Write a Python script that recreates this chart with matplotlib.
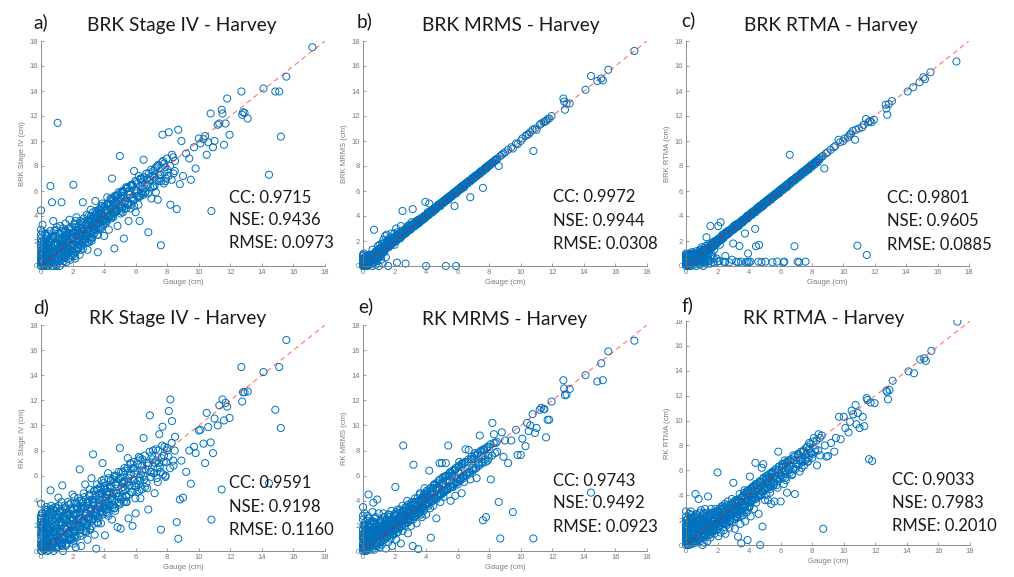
import numpy as np
import matplotlib
matplotlib.use('Agg')
import matplotlib.pyplot as plt
from matplotlib.patches import Rectangle

# gauge totals (cm), shared by all six products
gauge = [
    0.0, 0.0, 0.0, 0.0, 0.0, 0.0, 0.05, 0.1, 0.1, 0.15,
    0.2, 0.2, 0.25, 0.3, 0.3, 0.35, 0.4, 0.4, 0.45, 0.5,
    0.5, 0.55, 0.6, 0.6, 0.65, 0.7, 0.7, 0.75, 0.8, 0.8,
    0.85, 0.9, 0.9, 0.95, 1.0, 1.0, 1.05, 1.1, 1.1, 1.15,
    1.2, 1.2, 1.25, 1.3, 1.3, 1.35, 1.4, 1.4, 1.45, 1.5,
    1.5, 1.55, 1.6, 1.6, 1.65, 1.7, 1.75, 1.8, 1.8, 1.85,
    1.9, 1.95, 2.0, 2.0, 2.05, 2.1, 2.15, 2.2, 2.2, 2.25,
    2.3, 2.35, 2.4, 2.45, 2.5, 2.5, 2.55, 2.6, 2.65, 2.7,
    2.75, 2.8, 2.85, 2.9, 2.95, 3.0, 3.05, 3.1, 3.15, 3.2,
    3.25, 3.3, 3.35, 3.4, 3.45, 3.5, 3.55, 3.6, 3.7, 3.75,
    3.8, 3.85, 3.9, 3.95, 4.0, 4.05, 4.1, 4.2, 4.25, 4.3,
    4.4, 4.45, 4.5, 4.6, 4.65, 4.7, 4.8, 4.85, 4.9, 5.0,
    5.05, 5.1, 5.2, 5.25, 5.3, 5.4, 5.5, 5.55, 5.6, 5.7,
    5.8, 5.85, 5.9, 6.0, 6.1, 6.2, 6.25, 6.3, 6.4, 6.5,
    6.6, 6.7, 6.8, 6.9, 7.0, 7.1, 7.2, 7.3, 7.4, 7.5,
    7.6, 7.7, 7.8, 7.9, 8.0, 8.1, 8.2, 8.3, 8.4, 8.5,
    8.6, 8.7, 8.8, 8.9, 9.0, 9.2, 9.4, 9.5, 9.7, 9.8,
    10.0, 10.1, 10.3, 10.4, 10.5, 10.6, 10.75, 10.8, 10.9, 11.0,
    11.2, 11.3, 11.45, 11.5, 11.6, 11.7, 11.8, 11.95, 12.7, 12.75,
    12.8, 12.9, 13.1, 14.1, 14.45, 14.85, 15.1, 15.2, 15.55, 17.2,
    0.0, 0.0, 0.0, 0.02, 0.08, 0.12, 0.18, 0.22, 0.28, 0.32,
    0.38, 0.42, 0.48, 0.52, 0.58, 0.62, 0.68, 0.72, 0.78, 0.82,
    0.88, 0.92, 0.98, 1.02, 1.08, 1.12, 1.18, 1.22, 1.28, 1.32,
    1.38, 1.42, 1.48, 1.52, 1.58, 1.62, 1.72, 1.78, 1.88, 1.92,
    2.02, 2.08, 2.12, 2.18, 2.28, 2.32, 2.42, 2.48, 2.58, 2.62,
    2.72, 2.78, 2.88, 2.92, 3.02, 3.08, 3.18, 3.22, 3.32, 3.38,
    3.48, 3.52, 3.62, 3.68, 3.78, 3.88, 3.98, 4.02, 4.12, 4.18,
    4.28, 4.38, 4.52, 4.58, 4.72, 4.78, 4.92, 5.08, 5.18, 5.32,
    0.0, 0.0, 0.03, 0.07, 0.13, 0.17, 0.23, 0.27, 0.33, 0.37,
    0.43, 0.47, 0.53, 0.57, 0.63, 0.67, 0.73, 0.77, 0.83, 0.87,
    0.93, 0.97, 1.03, 1.07, 1.13, 1.17, 1.23, 1.27, 1.33, 1.37,
    1.43, 1.47, 1.53, 1.57, 1.63, 1.67, 1.73, 1.77, 1.83, 1.87,
    1.93, 1.97, 2.03, 2.07, 2.13, 2.17, 2.23, 2.27, 2.33, 2.37,
    2.43, 2.47, 2.53, 2.57, 2.63, 2.67, 2.73, 2.77, 2.83, 2.87,
    2.93, 2.97, 3.03, 3.07, 3.13, 3.17, 3.23, 3.27, 3.33, 3.37,
    3.43, 3.47, 3.53, 3.57, 3.63, 3.67, 3.73, 3.83, 3.93, 4.03,
    4.07, 4.13, 4.23, 4.33, 4.43, 4.53, 4.63, 4.73, 4.83, 4.93,
    5.03, 5.13, 5.23, 5.33, 5.43, 5.53, 5.63, 5.73, 5.83, 5.93,
    6.03, 6.13, 6.23, 6.33, 6.43, 6.53, 6.63, 6.73, 6.83, 6.93,
    7.03, 7.13, 7.23, 7.33, 7.43, 7.53, 7.63, 7.73, 7.83, 7.93,
    0.0, 0.04, 0.09, 0.14, 0.19, 0.24, 0.29, 0.34, 0.39, 0.44,
    0.49, 0.54, 0.59, 0.64, 0.69, 0.74, 0.79, 0.84, 0.89, 0.94,
    0.99, 1.06, 1.14, 1.21, 1.29, 1.36, 1.44, 1.51, 1.59, 1.66,
    1.74, 1.81, 1.89, 1.96, 2.04, 2.11, 2.19, 2.26, 2.34, 2.41,
    2.49, 2.56, 2.64, 2.71, 2.79, 2.86, 2.94, 3.01, 3.09, 3.16,
    3.24, 3.31, 3.39, 3.46, 3.54, 3.61, 3.69, 3.76, 3.84, 3.91,
    4.04, 4.16, 4.29, 4.41, 4.54, 4.66, 4.79, 4.91, 5.04, 5.16,
    5.29, 5.41, 5.54, 5.66, 5.79, 5.91, 6.04, 6.16, 6.29, 6.41,
    3.55, 3.65, 3.75, 3.85, 3.95, 4.08, 4.18, 4.28, 4.38, 4.48,
    4.58, 4.68, 4.78, 4.88, 4.98, 5.08, 5.18, 5.28, 5.38, 5.48,
    5.58, 5.68, 5.78, 5.88, 5.98, 6.08, 6.18, 6.28, 6.38, 6.48,
    6.58, 6.68, 6.78, 6.88, 6.98, 7.08, 7.18, 7.28, 7.38, 7.48,
    7.58, 7.68, 7.78, 7.88, 7.98, 8.08, 8.18, 8.28, 8.38, 8.48,
    0.02, 0.06, 0.11, 0.16, 0.21, 0.26, 0.31, 0.36, 0.41, 0.46,
]

brk_stage4 = [
    0.0, 0.6, 1.2, 1.9, 2.5, 4.45, 0.2, 0.9, 3.3, 1.6,
    0.0, 1.3, 0.5, 2.2, 0.1, 1.0, 0.0, 1.7, 2.6, 0.6,
    2.0, 1.1, 6.4, 0.2, 1.6, 0.4, 5.1, 2.4, 0.0, 1.2,
    2.8, 0.6, 1.8, 0.1, 1.4, 3.1, 11.45, 0.5, 2.2, 1.0,
    0.0, 2.6, 1.7, 5.1, 0.8, 2.0, 3.0, 1.2, 0.4, 2.3,
    1.0, 3.4, 0.3, 1.9, 2.7, 1.3, 0.6, 2.4, 3.7, 1.6,
    0.9, 2.9, 1.4, 2.3, 6.5, 3.3, 0.8, 1.9, 2.7, 3.9,
    1.5, 2.5, 3.2, 0.9, 2.0, 3.6, 1.3, 2.8, 5.1, 2.2,
    3.5, 1.9, 2.6, 4.1, 1.3, 3.0, 2.3, 3.8, 4.5, 2.0,
    3.3, 4.3, 2.6, 3.6, 5.2, 2.9, 4.0, 1.1, 3.5, 4.6,
    3.0, 4.2, 5.0, 3.7, 2.4, 4.4, 3.4, 5.5, 4.0, 2.9,
    4.6, 3.8, 7.0, 5.0, 1.4, 4.3, 5.6, 3.2, 4.9, 8.8,
    4.2, 5.4, 6.0, 2.2, 5.0, 4.6, 6.3, 3.6, 5.7, 4.9,
    6.4, 5.2, 7.6, 4.3, 6.0, 7.2, 3.6, 5.6, 6.7, 8.5,
    5.9, 6.9, 2.7, 7.1, 5.4, 7.6, 6.4, 7.9, 5.3, 7.0,
    1.66, 10.5, 8.2, 6.8, 7.7, 10.7, 4.9, 8.9, 7.4, 8.4,
    4.55, 10.9, 6.55, 10.0, 7.2, 9.0, 8.6, 6.9, 9.5, 7.8,
    10.2, 9.8, 10.15, 10.4, 8.9, 9.9, 12.2, 4.4, 9.5, 10.0,
    11.3, 11.4, 12.5, 12.2, 9.7, 11.4, 13.4, 10.5, 13.96, 12.1,
    12.3, 12.25, 11.8, 14.2, 7.3, 13.96, 13.96, 10.35, 15.15, 17.5,
    0.3, 1.5, 2.9, 0.0, 1.1, 0.4, 2.0, 0.8, 1.4, 0.2,
    1.2, 0.5, 1.7, 0.3, 0.9, 2.2, 1.5, 1.0, 3.6, 0.5,
    1.2, 2.4, 0.0, 1.9, 0.9, 1.5, 2.2, 0.4, 1.1, 2.8,
    1.7, 0.7, 2.1, 1.3, 2.4, 1.0, 2.0, 3.0, 1.2, 2.5,
    1.8, 2.6, 1.0, 3.1, 2.0, 2.9, 1.7, 2.6, 3.3, 1.9,
    3.0, 2.4, 3.4, 2.7, 3.7, 2.1, 3.1, 3.5, 2.8, 3.9,
    3.2, 3.8, 4.1, 3.4, 4.4, 3.6, 4.0, 4.8, 3.7, 4.5,
    4.0, 4.9, 4.3, 5.3, 4.6, 5.1, 5.4, 4.8, 5.6, 5.2,
    0.9, 2.2, 0.4, 1.3, 0.0, 0.7, 1.9, 0.3, 1.0, 2.4,
    0.8, 0.2, 1.4, 2.0, 0.5, 1.1, 0.0, 2.3, 0.9, 1.6,
    0.3, 1.7, 1.0, 2.6, 0.6, 1.3, 2.0, 0.9, 1.6, 0.2,
    1.9, 1.1, 2.8, 0.7, 1.5, 2.2, 1.0, 3.0, 1.7, 0.5,
    2.1, 1.2, 2.7, 1.6, 3.4, 0.6, 2.4, 1.9, 2.9, 1.4,
    2.2, 3.0, 1.7, 2.6, 3.5, 1.4, 2.9, 2.1, 3.3, 2.5,
    2.4, 3.3, 1.9, 3.6, 2.8, 4.0, 2.2, 3.1, 3.8, 2.6,
    3.0, 4.1, 3.5, 2.5, 3.9, 4.5, 3.2, 4.2, 3.6, 4.7,
    3.8, 4.4, 5.0, 4.1, 5.3, 4.0, 4.8, 5.6, 4.4, 5.1,
    5.5, 4.6, 5.9, 5.2, 6.2, 4.9, 5.7, 6.5, 5.4, 6.1,
    5.8, 6.6, 5.5, 6.9, 6.2, 7.1, 5.9, 6.5, 7.4, 6.3,
    7.2, 6.4, 7.8, 6.9, 8.1, 7.3, 6.8, 8.4, 7.5, 7.0,
    1.7, 0.5, 2.7, 1.0, 0.1, 1.8, 0.6, 2.5, 1.2, 0.0,
    1.9, 0.7, 2.8, 1.3, 0.3, 2.1, 1.0, 0.2, 1.6, 2.9,
    0.6, 1.8, 1.1, 3.2, 0.5, 2.1, 1.4, 2.7, 0.9, 1.9,
    2.6, 1.3, 3.1, 0.8, 2.3, 1.7, 3.6, 1.2, 2.8, 2.0,
    3.0, 1.6, 2.5, 3.8, 2.1, 3.3, 1.9, 4.0, 2.7, 3.5,
    2.3, 3.9, 2.9, 4.4, 3.4, 2.5, 4.2, 3.1, 4.8, 3.6,
    3.5, 4.9, 3.9, 5.4, 4.2, 5.6, 4.5, 5.9, 4.4, 6.0,
    4.6, 6.2, 5.0, 6.4, 5.5, 4.8, 6.7, 5.6, 7.0, 5.8,
    4.3, 2.9, 3.7, 4.8, 3.3, 4.5, 3.6, 5.0, 4.0, 5.3,
    3.9, 5.1, 4.4, 5.7, 4.7, 5.9, 4.3, 5.5, 6.3, 4.9,
    6.0, 4.6, 6.5, 5.3, 6.8, 5.6, 4.9, 6.4, 7.0, 5.7,
    6.2, 7.4, 5.8, 6.9, 7.7, 6.3, 7.1, 5.9, 8.0, 6.8,
    7.3, 8.3, 6.6, 7.9, 8.6, 7.2, 8.0, 6.9, 8.7, 7.6,
    0.8, 2.0, 0.3, 1.4, 0.6, 2.6, 1.1, 0.0, 1.8, 0.4,
]

brk_mrms = [
    0.0, 0.3, 0.6, 0.9, 0.1, 0.5, 1.0, 0.2, 0.7, 0.0,
    0.4, 0.0, 0.8, 0.2, 0.6, 0.3, 0.9, 0.1, 0.5, 0.7,
    0.2, 0.9, 0.0, 1.3, 0.6, 2.9, 0.3, 1.0, 0.1, 0.7,
    1.2, 0.4, 0.9, 1.6, 0.0, 1.1, 1.7, 0.8, 1.3, 0.5,
    1.3, 1.8, 0.2, 1.5, 2.1, 1.1, 2.4, 1.4, 0.7, 1.7,
    2.5, 1.5, 1.9, 0.0, 2.2, 1.6, 2.0, 1.8, 2.6, 1.9,
    2.2, 1.9, 2.6, 1.7, 2.1, 3.0, 0.27, 2.2, 2.5, 2.3,
    2.6, 2.2, 3.2, 2.4, 4.4, 2.7, 2.5, 2.9, 2.6, 0.2,
    3.0, 2.8, 3.2, 2.9, 3.3, 3.0, 3.1, 3.5, 4.55, 3.2,
    3.3, 3.5, 3.3, 3.6, 3.4, 3.7, 3.5, 3.6, 3.8, 3.7,
    3.9, 3.8, 4.0, 5.13, 0.0, 4.1, 4.3, 5.0, 4.2, 4.4,
    4.5, 4.4, 4.6, 4.7, 4.6, 4.8, 4.9, 4.8, 5.0, 5.1,
    5.0, 5.2, 5.3, 0.0, 5.3, 5.5, 5.6, 5.5, 5.7, 5.8,
    4.8, 5.9, 0.0, 6.1, 6.2, 6.3, 6.2, 6.4, 6.5, 6.6,
    6.7, 6.8, 5.5, 7.0, 7.1, 7.2, 7.3, 7.3, 7.5, 7.6,
    6.25, 7.8, 7.9, 8.0, 8.1, 8.2, 8.3, 8.4, 8.5, 8.6,
    8.0, 8.8, 8.9, 9.0, 9.1, 9.3, 9.5, 9.4, 9.8, 9.75,
    10.0, 10.2, 10.4, 10.5, 10.55, 10.7, 10.9, 9.2, 11.0, 10.9,
    11.3, 11.4, 11.5, 11.55, 11.6, 11.75, 11.8, 12.0, 13.4, 13.15,
    12.5, 13.0, 13.0, 14.1, 15.2, 14.8, 15.0, 14.85, 15.7, 17.2,
    0.2, 0.8, 0.4, 0.0, 0.6, 0.3, 0.1, 0.5, 0.0, 0.4,
    0.2, 0.6, 0.4, 0.8, 0.5, 0.3, 0.9, 0.6, 1.0, 0.7,
    0.9, 1.3, 0.7, 1.0, 1.4, 1.2, 0.9, 1.5, 1.2, 1.8,
    1.3, 1.7, 1.5, 2.0, 1.6, 1.5, 1.9, 2.3, 1.9, 2.0,
    2.0, 2.3, 2.1, 2.7, 2.3, 2.5, 2.4, 2.8, 2.6, 2.7,
    2.8, 3.1, 2.9, 3.0, 3.1, 3.3, 3.2, 3.4, 3.3, 3.5,
    3.5, 3.4, 3.7, 3.8, 3.7, 4.0, 3.9, 4.1, 4.2, 4.1,
    4.3, 4.4, 4.6, 4.5, 4.7, 4.9, 4.9, 5.1, 5.2, 5.3,
    0.1, 0.5, 0.3, 0.0, 0.4, 0.2, 0.6, 0.3, 0.5, 0.2,
    0.5, 0.8, 0.4, 0.7, 0.9, 0.5, 0.8, 1.1, 0.6, 1.0,
    0.8, 1.2, 1.0, 1.4, 0.9, 1.3, 1.1, 1.6, 1.2, 1.5,
    1.4, 1.8, 1.5, 1.7, 1.6, 2.0, 1.7, 1.9, 1.8, 2.2,
    1.9, 2.1, 2.0, 2.4, 2.1, 2.3, 2.2, 2.6, 2.3, 2.5,
    2.4, 2.6, 2.5, 2.7, 2.6, 2.9, 2.7, 2.8, 2.8, 3.0,
    2.9, 3.1, 3.0, 3.2, 3.1, 3.3, 3.2, 3.4, 3.3, 3.4,
    3.4, 3.6, 3.5, 3.6, 3.6, 3.8, 3.7, 3.8, 3.9, 4.1,
    4.0, 4.2, 4.2, 4.4, 4.4, 4.5, 4.6, 4.8, 4.8, 5.0,
    5.0, 5.2, 5.2, 5.4, 5.4, 5.6, 5.6, 5.8, 5.8, 6.0,
    6.0, 6.2, 6.2, 6.4, 6.4, 6.6, 6.6, 6.8, 6.8, 7.0,
    7.0, 7.2, 7.2, 7.4, 7.4, 7.6, 7.6, 7.8, 7.8, 8.0,
    0.3, 0.1, 0.4, 0.2, 0.5, 0.3, 0.4, 0.6, 0.4, 0.5,
    0.6, 0.5, 0.7, 0.6, 0.8, 0.7, 0.9, 0.8, 1.0, 0.9,
    1.1, 1.0, 1.3, 1.2, 1.4, 1.3, 1.6, 1.5, 1.7, 1.6,
    1.8, 1.7, 2.0, 1.9, 2.1, 2.0, 2.3, 2.2, 2.4, 2.3,
    2.6, 2.5, 2.7, 2.6, 2.8, 2.8, 3.0, 2.9, 3.2, 3.1,
    3.3, 3.2, 3.5, 3.4, 3.6, 3.5, 3.8, 3.7, 3.9, 3.8,
    4.1, 4.1, 4.4, 4.3, 4.6, 4.6, 4.9, 4.8, 5.1, 5.1,
    5.4, 5.3, 5.6, 5.6, 5.9, 5.8, 6.1, 6.1, 6.4, 6.3,
    3.6, 3.7, 3.8, 3.9, 4.0, 4.1, 4.2, 4.3, 4.4, 4.5,
    4.6, 4.7, 4.8, 4.9, 5.0, 5.1, 5.2, 5.3, 5.4, 5.5,
    5.6, 5.7, 5.8, 5.9, 6.0, 6.1, 6.2, 6.3, 6.4, 6.5,
    6.6, 6.7, 6.8, 6.9, 7.0, 7.1, 7.2, 7.3, 7.4, 7.5,
    7.6, 7.7, 7.8, 7.9, 8.0, 8.1, 8.2, 8.3, 8.4, 8.5,
    0.4, 0.1, 0.6, 0.3, 0.8, 0.2, 0.5, 0.7, 0.3, 0.9,
]

brk_rtma = [
    0.0, 0.4, 0.8, 0.2, 0.6, 1.0, 0.3, 0.7, 0.1, 0.5,
    0.9, 0.2, 0.5, 0.0, 0.8, 0.4, 1.1, 0.3, 0.7, 0.1,
    0.6, 1.0, 0.3, 0.8, 0.0, 1.2, 0.5, 0.9, 0.2, 1.1,
    0.6, 1.3, 0.1, 0.9, 1.5, 0.4, 1.1, 0.0, 1.4, 0.7,
    1.2, 0.3, 1.6, 2.3, 0.8, 1.4, 0.2, 1.7, 1.0, 1.5,
    0.4, 3.2, 1.7, 0.8, 1.5, 1.9, 0.3, 1.8, 1.3, 2.0,
    1.9, 0.6, 0.35, 2.1, 3.2, 2.2, 1.7, 3.5, 2.3, 2.1,
    2.4, 2.2, 0.35, 2.6, 2.5, 0.8, 2.7, 2.5, 2.8, 2.6,
    0.3, 2.9, 2.8, 3.0, 2.9, 1.8, 3.2, 3.0, 3.3, 0.35,
    3.3, 3.4, 3.2, 1.6, 3.5, 0.35, 3.6, 3.5, 3.7, 2.6,
    0.3, 3.9, 0.35, 1.0, 0.3, 4.1, 0.35, 4.3, 4.2, 4.4,
    2.97, 1.58, 4.6, 0.35, 1.68, 4.8, 0.3, 4.9, 5.0, 5.1,
    0.35, 5.2, 5.3, 5.2, 5.4, 5.5, 0.3, 5.6, 5.7, 5.8,
    0.35, 5.9, 6.0, 6.1, 6.2, 0.3, 0.35, 6.4, 6.5, 6.6,
    8.9, 6.8, 6.9, 1.58, 7.1, 0.35, 0.3, 7.4, 7.5, 7.6,
    0.35, 7.8, 7.75, 8.0, 8.1, 8.2, 8.3, 8.4, 8.5, 8.6,
    8.7, 8.8, 7.8, 9.0, 9.1, 9.3, 9.5, 9.6, 10.1, 9.9,
    10.0, 10.2, 10.3, 10.5, 10.6, 10.8, 10.1, 10.9, 1.63, 11.0,
    11.1, 11.3, 11.76, 0.88, 11.5, 11.6, 11.5, 11.7, 12.9, 12.6,
    12.1, 12.95, 13.2, 13.96, 14.3, 14.7, 15.1, 14.95, 15.5, 16.36,
    0.5, 0.9, 0.2, 0.7, 0.4, 0.0, 0.6, 0.2, 0.9, 0.5,
    0.6, 0.2, 0.8, 0.5, 0.7, 0.4, 0.9, 0.6, 1.0, 0.8,
    0.9, 0.3, 1.0, 1.2, 0.5, 1.1, 1.3, 0.2, 1.2, 1.4,
    1.4, 0.5, 1.5, 1.6, 0.2, 1.7, 1.8, 0.6, 1.9, 2.0,
    2.1, 2.0, 0.4, 2.2, 2.3, 2.5, 2.4, 0.3, 2.6, 2.7,
    2.8, 2.7, 2.9, 0.5, 3.0, 3.2, 3.1, 3.3, 0.3, 3.4,
    3.5, 3.6, 3.7, 3.6, 3.8, 4.0, 3.9, 4.1, 4.2, 4.1,
    4.3, 4.4, 4.5, 4.7, 4.8, 4.7, 5.0, 5.1, 5.2, 5.4,
    0.3, 0.7, 0.1, 0.5, 0.2, 0.8, 0.4, 0.0, 0.6, 0.3,
    0.5, 0.9, 0.3, 0.6, 0.8, 0.4, 1.0, 0.7, 0.9, 0.5,
    1.0, 0.6, 1.1, 0.8, 1.2, 0.4, 1.3, 1.1, 1.4, 0.7,
    1.5, 1.2, 1.6, 1.4, 1.7, 0.9, 1.8, 1.6, 1.9, 1.7,
    2.0, 1.8, 2.1, 2.0, 2.2, 2.1, 2.3, 2.2, 2.4, 2.3,
    2.5, 2.4, 2.6, 2.5, 2.7, 2.6, 2.8, 2.7, 2.9, 2.8,
    3.0, 2.9, 3.1, 3.0, 3.2, 3.1, 3.3, 3.2, 3.4, 3.3,
    3.5, 3.4, 3.6, 3.5, 3.7, 3.6, 3.8, 3.8, 4.0, 4.1,
    4.1, 4.2, 4.3, 4.4, 4.5, 4.6, 4.7, 4.8, 4.9, 5.0,
    5.1, 5.2, 5.3, 5.4, 5.5, 5.6, 5.7, 5.8, 5.9, 6.0,
    6.1, 6.2, 6.3, 6.4, 6.5, 6.6, 6.7, 6.8, 6.9, 7.0,
    7.1, 7.2, 7.3, 7.4, 7.5, 7.6, 7.7, 7.8, 7.9, 8.0,
    0.6, 0.2, 0.8, 0.4, 0.1, 0.7, 0.3, 0.5, 0.9, 0.4,
    0.7, 0.3, 0.8, 0.6, 1.0, 0.5, 0.9, 0.7, 1.1, 0.8,
    1.0, 0.6, 1.2, 1.1, 1.3, 0.9, 1.5, 1.4, 1.6, 1.5,
    1.8, 1.7, 1.9, 1.9, 2.1, 2.0, 2.2, 2.2, 2.4, 2.3,
    2.5, 2.5, 2.7, 2.6, 2.8, 2.8, 3.0, 2.9, 3.1, 3.1,
    3.3, 3.2, 3.4, 3.4, 3.6, 3.5, 3.7, 3.7, 3.9, 3.8,
    4.1, 4.1, 4.3, 4.3, 4.6, 4.6, 4.8, 4.8, 5.1, 5.1,
    5.3, 5.3, 5.6, 5.6, 5.8, 5.8, 6.1, 6.1, 6.3, 6.3,
    3.5, 3.7, 3.7, 3.9, 3.9, 4.1, 4.1, 4.3, 4.3, 4.5,
    4.5, 4.7, 4.7, 4.9, 4.9, 5.1, 5.1, 5.3, 5.3, 5.5,
    5.5, 5.7, 5.7, 5.9, 5.9, 6.1, 6.1, 6.3, 6.3, 6.5,
    6.5, 6.7, 6.7, 6.9, 6.9, 7.1, 7.1, 7.3, 7.3, 7.5,
    7.5, 7.7, 7.7, 7.9, 7.9, 8.1, 8.1, 8.3, 8.3, 8.5,
    0.7, 0.3, 0.9, 0.5, 1.0, 0.2, 0.8, 0.4, 1.1, 0.6,
]

rk_stage4 = [
    0.0, 0.8, 1.5, 2.3, 2.8, 3.77, 0.3, 1.2, 2.0, 0.5,
    1.8, 0.1, 2.6, 0.7, 1.4, 3.1, 0.0, 2.2, 1.0, 2.7,
    0.4, 1.7, 4.83, 1.1, 3.3, 0.2, 2.4, 1.5, 3.0, 0.0,
    2.0, 0.7, 3.5, 1.3, 2.6, 0.3, 1.8, 4.25, 2.9, 0.9,
    1.6, 3.2, 0.5, 2.3, 1.1, 5.22, 2.8, 0.0, 1.9, 3.6,
    1.2, 2.5, 0.6, 3.0, 1.7, 3.9, 0.9, 2.2, 1.4, 3.3,
    2.7, 1.0, 4.5, 2.1, 0.6, 3.4, 1.6, 2.9, 0.3, 3.8,
    1.9, 4.2, 2.6, 6.5, 1.2, 3.3, 0.4, 2.4, 3.9, 1.6,
    3.0, 5.3, 2.0, 3.6, 0.9, 2.7, 4.4, 1.8, 3.2, 5.8,
    2.4, 7.7, 3.8, 1.3, 3.1, 0.19, 4.9, 2.8, 3.5, 5.1,
    2.2, 4.5, 7.0, 3.4, 5.7, 1.25, 4.0, 3.0, 6.2, 4.7,
    3.6, 5.2, 2.5, 4.6, 6.0, 3.2, 5.5, 1.9, 4.3, 8.2,
    1.78, 5.0, 6.3, 3.9, 5.6, 4.4, 7.4, 2.6, 5.2, 6.1,
    2.0, 5.6, 6.6, 3.0, 4.7, 7.5, 5.8, 4.2, 6.4, 9.0,
    5.1, 7.0, 3.3, 10.8, 6.3, 8.0, 4.6, 7.2, 5.5, 9.3,
    1.7, 9.9, 7.6, 6.0, 8.2, 11.15, 12.07, 10.35, 6.8, 9.1,
    2.3, 0.98, 4.1, 7.2, 4.25, 6.3, 8.0, 5.36, 8.3, 7.8,
    9.6, 9.65, 8.55, 7.0, 11.0, 9.87, 8.65, 2.5, 7.8, 10.55,
    10.0, 11.6, 4.9, 12.07, 10.4, 11.8, 11.5, 10.6, 14.65, 11.9,
    12.65, 12.65, 12.7, 14.25, 5.4, 11.25, 14.65, 9.8, 16.8, np.nan,
    0.4, 1.9, 2.5, 1.1, 0.0, 1.6, 0.7, 2.1, 0.2, 1.3,
    0.8, 1.9, 0.1, 2.4, 1.2, 0.5, 1.8, 2.9, 0.7, 1.5,
    1.0, 2.3, 0.2, 1.6, 2.7, 0.6, 1.3, 3.0, 2.0, 0.4,
    2.2, 1.0, 2.8, 1.8, 0.5, 2.5, 1.4, 2.9, 2.0, 1.1,
    1.6, 2.9, 2.2, 1.2, 3.4, 2.5, 1.9, 3.1, 2.3, 3.6,
    2.5, 3.5, 1.8, 3.0, 4.0, 2.6, 3.4, 2.0, 3.9, 3.1,
    4.1, 2.9, 3.6, 4.6, 3.2, 4.3, 3.7, 4.9, 3.4, 4.5,
    3.9, 5.0, 4.4, 3.7, 5.3, 4.6, 5.7, 4.1, 5.4, 4.9,
    1.3, 2.6, 0.5, 1.8, 0.2, 2.3, 1.0, 3.3, 0.6, 1.9,
    2.5, 0.9, 1.6, 3.1, 0.3, 2.1, 1.2, 3.4, 0.8, 2.6,
    1.7, 0.4, 2.9, 1.2, 3.6, 0.8, 2.2, 1.5, 3.2, 0.6,
    2.5, 1.0, 3.4, 0.4, 2.0, 2.9, 1.3, 3.7, 0.9, 2.4,
    1.5, 3.2, 2.4, 0.8, 3.8, 1.9, 2.9, 1.1, 3.5, 2.2,
    3.1, 1.4, 2.6, 4.0, 1.9, 3.4, 2.3, 4.3, 1.6, 3.0,
    2.1, 3.8, 2.7, 4.5, 1.7, 3.3, 4.1, 2.5, 3.6, 4.8,
    2.8, 4.4, 3.3, 2.3, 4.9, 3.8, 2.9, 4.6, 3.5, 5.2,
    4.3, 3.1, 5.0, 3.7, 5.6, 4.1, 3.4, 5.3, 4.6, 3.9,
    5.8, 4.3, 5.1, 6.4, 3.9, 5.5, 6.0, 4.7, 6.6, 5.2,
    5.4, 6.9, 4.8, 6.1, 7.3, 5.7, 6.5, 5.0, 7.0, 6.3,
    7.6, 6.2, 7.0, 5.8, 8.0, 6.7, 7.4, 6.1, 8.3, 7.1,
    2.1, 0.6, 3.0, 1.4, 0.2, 2.7, 1.1, 3.5, 0.4, 1.8,
    2.9, 0.3, 1.9, 3.6, 1.0, 2.4, 0.6, 3.2, 1.5, 2.1,
    3.4, 0.8, 2.3, 1.5, 3.9, 0.7, 2.6, 1.9, 3.3, 1.0,
    3.0, 1.6, 3.8, 0.9, 2.6, 4.3, 1.5, 3.3, 2.1, 4.0,
    1.7, 3.4, 2.2, 4.6, 2.8, 1.5, 3.9, 2.5, 4.9, 3.2,
    4.1, 2.6, 4.8, 3.0, 5.3, 2.2, 4.4, 3.6, 5.6, 2.9,
    5.0, 3.3, 5.8, 4.2, 3.5, 5.9, 4.6, 6.3, 3.8, 5.5,
    6.6, 4.3, 5.8, 7.0, 4.7, 6.2, 5.1, 7.2, 5.6, 6.8,
    4.9, 2.6, 4.2, 3.1, 5.4, 3.6, 4.7, 2.8, 5.1, 4.0,
    5.7, 3.4, 6.0, 4.4, 3.7, 6.3, 4.8, 5.5, 3.9, 6.6,
    4.5, 6.9, 5.2, 7.1, 4.2, 6.4, 5.6, 7.4, 4.9, 6.0,
    7.6, 5.4, 6.8, 7.9, 5.9, 7.3, 6.2, 8.1, 6.6, 7.0,
    6.3, 8.4, 7.1, 5.9, 8.0, 7.5, 6.6, 8.6, 7.2, 8.0,
    1.5, 3.0, 0.6, 2.2, 1.0, 2.7, 0.3, 1.9, 3.3, 1.2,
]

rk_mrms = [
    0.0, 0.5, 1.1, 1.7, 2.5, 3.5, 0.2, 3.0, 0.8, 1.4,
    0.0, 1.8, 0.6, 2.8, 1.2, 4.5, 0.3, 1.6, 2.2, 0.9,
    1.9, 0.5, 3.1, 1.3, 3.85, 0.1, 2.3, 1.0, 2.7, 0.4,
    1.6, 4.1, 0.7, 2.0, 1.2, 3.0, 0.3, 2.4, 1.5, 0.8,
    1.9, 0.5, 2.6, 1.3, 3.0, 0.9, 2.1, 1.6, 0.2, 2.5,
    1.1, 2.0, 0.7, 2.9, 1.5, 2.3, 1.0, 3.2, 1.8, 0.4,
    2.4, 1.3, 2.8, 1.7, 5.1, 0.9, 2.2, 3.3, 1.5, 2.6,
    1.8, 3.0, 0.6, 2.4, 3.6, 1.6, 8.4, 2.8, 2.0, 3.2,
    2.3, 4.0, 1.4, 3.1, 2.6, 3.7, 2.0, 3.4, 0.4, 6.87,
    2.8, 4.2, 3.3, 2.2, 3.9, 0.15, 3.0, 4.6, 3.5, 2.7,
    4.3, 3.2, 5.0, 3.7, 2.9, 4.5, 3.9, 6.4, 3.4, 1.06,
    4.7, 3.6, 5.3, 4.2, 2.6, 5.0, 4.5, 7.0, 3.9, 7.0,
    5.4, 4.3, 5.9, 7.0, 4.9, 8.4, 5.6, 4.0, 6.2, 5.1,
    6.0, 4.4, 6.6, 5.3, 7.1, 5.8, 4.6, 6.9, 5.5, 8.1,
    6.2, 8.05, 5.7, 7.3, 6.5, 7.8, 5.8, 7.0, 9.2, 7.6,
    2.45, 8.0, 2.7, 7.2, 8.3, 5.7, 10.2, 9.3, 8.6, 7.9,
    3.9, 1.0, 9.45, 7.5, 8.8, 7.0, 8.8, 3.1, 9.65, 7.65,
    7.65, 8.95, 8.35, 10.2, 9.55, 10.0, 10.9, 1.0, 9.4, 9.8,
    11.25, 11.4, 11.3, 11.3, 9.05, 10.45, 10.45, 11.9, 13.6, 12.95,
    12.4, 12.45, 12.9, 14.0, 4.65, 13.5, 14.95, 13.6, 15.9, 16.75,
    0.3, 1.4, 2.8, 0.9, 0.0, 2.0, 1.1, 0.4, 1.7, 0.7,
    1.3, 0.1, 1.7, 0.8, 2.4, 1.2, 0.5, 1.8, 1.0, 2.1,
    1.1, 0.4, 1.8, 1.3, 2.2, 0.7, 1.6, 1.0, 2.0, 1.4,
    1.7, 2.3, 1.2, 1.9, 1.4, 2.5, 1.6, 2.1, 1.3, 2.0,
    2.3, 1.8, 2.9, 2.0, 2.6, 1.9, 2.8, 2.2, 3.1, 2.4,
    2.5, 3.2, 2.6, 3.5, 2.8, 3.4, 2.9, 3.7, 3.0, 3.6,
    3.3, 4.0, 3.4, 3.9, 3.5, 4.3, 3.8, 4.5, 3.9, 4.4,
    4.1, 4.7, 4.3, 5.0, 4.4, 5.1, 4.6, 5.4, 4.8, 5.6,
    0.6, 1.7, 0.2, 1.1, 2.3, 0.5, 1.4, 0.9, 2.0, 0.4,
    1.0, 1.9, 0.6, 1.4, 0.2, 1.7, 1.1, 2.2, 0.7, 1.5,
    1.3, 0.6, 2.0, 1.6, 0.8, 2.3, 1.2, 1.8, 0.9, 2.1,
    1.6, 2.4, 1.1, 1.9, 2.7, 1.3, 2.2, 1.6, 2.5, 1.4,
    2.2, 1.6, 2.8, 2.0, 2.5, 1.5, 3.0, 2.3, 1.9, 2.8,
    2.6, 2.0, 3.2, 2.4, 2.9, 2.2, 3.4, 2.6, 3.1, 2.3,
    3.2, 2.6, 3.6, 2.9, 3.4, 2.5, 3.8, 3.0, 3.5, 2.8,
    3.6, 3.0, 4.0, 3.3, 3.9, 2.9, 4.2, 3.6, 4.4, 3.7,
    4.3, 3.8, 4.6, 3.9, 5.0, 4.2, 4.9, 4.3, 5.3, 4.6,
    5.3, 4.7, 5.6, 4.9, 6.0, 5.1, 6.0, 5.4, 6.4, 5.7,
    6.3, 5.6, 6.7, 5.9, 7.0, 6.1, 7.1, 6.3, 7.3, 6.6,
    7.4, 6.6, 7.7, 6.9, 7.9, 7.1, 8.1, 7.3, 8.2, 7.6,
    1.0, 2.0, 0.5, 1.6, 0.1, 1.3, 2.4, 0.7, 1.9, 1.1,
    0.3, 1.5, 2.3, 0.9, 1.8, 0.5, 2.6, 1.2, 2.0, 0.8,
    1.7, 2.4, 0.8, 2.0, 1.3, 2.7, 1.0, 2.2, 1.6, 2.9,
    1.4, 2.5, 2.0, 2.9, 1.7, 3.1, 2.4, 1.8, 3.3, 2.6,
    2.0, 3.2, 2.6, 3.5, 2.3, 3.7, 3.0, 2.5, 3.9, 3.3,
    2.7, 3.9, 3.1, 4.2, 3.0, 4.5, 3.5, 4.1, 3.3, 4.6,
    4.8, 3.6, 5.0, 4.0, 5.3, 4.1, 5.6, 4.5, 5.8, 4.7,
    6.0, 4.9, 6.3, 5.1, 6.5, 5.4, 6.7, 5.6, 6.9, 6.0,
    3.0, 4.1, 3.4, 4.5, 3.6, 4.7, 3.8, 5.0, 4.0, 5.2,
    4.2, 5.4, 4.4, 5.7, 4.5, 5.9, 4.8, 6.0, 5.0, 6.2,
    5.1, 6.4, 5.3, 6.6, 5.5, 6.8, 5.7, 7.0, 5.8, 7.1,
    6.0, 7.3, 6.2, 7.5, 6.4, 7.6, 6.6, 7.8, 6.8, 8.0,
    7.0, 8.1, 7.1, 8.3, 7.4, 8.5, 7.6, 8.6, 7.8, 8.7,
    1.2, 0.3, 2.1, 0.8, 1.6, 0.1, 2.6, 1.0, 1.9, 0.5,
]

rk_rtma = [
    0.0, 0.5, 1.0, 1.5, 2.0, 2.7, 0.2, 0.8, 1.7, 0.4,
    1.2, 0.0, 2.0, 0.6, 2.7, 1.4, 0.1, 1.8, 0.9, 2.3,
    0.5, 1.5, 4.1, 1.0, 2.5, 0.2, 1.9, 0.7, 3.7, 1.3,
    2.1, 0.3, 1.5, 2.8, 0.9, 1.8, 0.0, 2.4, 1.2, 0.6,
    1.6, 2.9, 0.8, 2.2, 1.3, 0.3, 1.9, 3.9, 1.0, 2.5,
    1.4, 0.6, 2.0, 2.9, 1.1, 1.7, 2.6, 0.9, 2.2, 1.5,
    2.4, 1.2, 5.83, 1.9, 0.7, 2.7, 1.5, 2.2, 1.0, 3.1,
    1.8, 2.6, 1.2, 3.3, 2.1, 0.9, 2.8, 1.6, 3.5, 2.3,
    1.4, 3.0, 2.4, 3.7, 1.9, 5.0, 2.7, 1.3, 3.3, 2.2,
    3.6, 0.67, 2.5, 4.1, 1.7, 0.13, 3.2, 2.4, 4.4, 1.9,
    3.5, 2.6, 0.4, 4.2, 3.0, 5.5, 2.3, 3.8, 4.7, 2.9,
    6.6, 3.4, 4.6, 2.5, 4.1, 0.0, 6.2, 1.48, 6.5, 3.6,
    5.0, 4.0, 3.6, 5.4, 4.5, 3.3, 5.8, 4.8, 3.5, 5.3,
    4.6, 7.5, 5.7, 3.5, 6.2, 4.9, 6.8, 5.4, 4.2, 6.1,
    6.8, 5.6, 7.2, 4.1, 6.5, 7.3, 5.9, 6.9, 7.5, 6.4,
    7.8, 6.7, 8.2, 7.4, 7.0, 8.6, 7.7, 6.4, 8.9, 7.2,
    8.8, 1.3, 8.0, 7.1, 7.15, 8.2, 7.5, 8.6, 10.3, 8.5,
    10.3, 9.4, 9.05, 9.9, 10.8, 10.5, 11.25, 9.7, 10.6, 9.4,
    10.3, 9.55, 11.8, 11.65, 6.9, 11.45, 6.75, 11.4, 12.4, 12.3,
    11.7, 12.45, 13.2, 13.95, 13.8, 14.9, 15.0, 14.8, 15.6, 17.95,
    0.3, 1.2, 2.3, 0.7, 1.5, 0.0, 1.0, 1.9, 0.5, 1.6,
    0.8, 2.1, 1.1, 0.2, 1.7, 0.6, 2.2, 1.2, 0.4, 1.9,
    1.4, 0.5, 2.0, 1.1, 1.7, 0.2, 2.5, 1.3, 0.7, 1.9,
    1.5, 2.2, 0.8, 1.8, 2.4, 1.2, 2.0, 1.5, 2.7, 1.7,
    2.0, 1.5, 2.6, 1.8, 2.9, 2.1, 1.7, 2.6, 2.0, 3.0,
    2.8, 2.0, 3.1, 2.5, 2.8, 3.4, 2.3, 3.1, 3.6, 2.7,
    3.5, 2.8, 3.9, 3.2, 3.7, 4.2, 3.1, 4.0, 4.5, 3.6,
    4.4, 3.8, 4.8, 4.3, 5.1, 4.0, 4.9, 5.3, 4.6, 5.5,
    0.4, 1.4, 0.9, 0.1, 1.8, 0.6, 1.2, 2.2, 0.3, 1.5,
    0.7, 1.9, 1.0, 0.3, 1.5, 2.4, 0.8, 1.3, 2.0, 0.5,
    1.5, 0.8, 1.9, 1.2, 2.6, 0.9, 1.6, 2.2, 1.0, 1.8,
    1.3, 2.3, 0.9, 1.7, 2.0, 1.1, 2.6, 1.5, 1.9, 2.9,
    1.8, 2.5, 1.3, 2.2, 2.9, 1.6, 2.4, 1.9, 3.1, 2.1,
    2.0, 2.8, 2.4, 1.7, 3.2, 2.3, 2.7, 1.9, 3.0, 2.5,
    2.4, 3.3, 2.8, 2.1, 3.6, 2.6, 3.1, 2.2, 3.4, 2.9,
    2.8, 3.8, 3.2, 2.6, 3.9, 3.3, 3.0, 4.1, 3.5, 3.1,
    4.3, 3.6, 4.0, 4.7, 3.7, 4.5, 4.0, 5.0, 4.3, 4.7,
    4.6, 5.3, 4.9, 4.2, 5.7, 5.0, 5.5, 4.8, 6.0, 5.4,
    5.6, 6.3, 5.9, 5.2, 6.6, 6.0, 6.4, 5.7, 6.8, 6.1,
    6.5, 7.2, 6.8, 6.2, 7.5, 6.9, 7.3, 6.7, 7.7, 7.4,
    1.6, 0.6, 2.1, 1.1, 0.3, 1.8, 0.9, 2.4, 1.3, 0.2,
    1.7, 1.0, 2.3, 0.5, 1.4, 2.0, 0.7, 1.6, 2.6, 1.2,
    0.6, 2.1, 1.5, 0.9, 2.3, 1.1, 1.8, 2.6, 1.3, 2.0,
    1.2, 2.4, 1.6, 2.7, 1.9, 1.4, 2.8, 2.1, 1.7, 3.0,
    2.2, 1.8, 3.1, 2.5, 1.9, 3.3, 2.6, 2.1, 3.5, 2.8,
    2.5, 3.6, 2.9, 2.3, 3.8, 3.0, 4.2, 2.8, 3.5, 4.4,
    3.4, 4.6, 3.8, 4.9, 3.9, 5.1, 4.3, 5.4, 4.6, 5.6,
    4.8, 5.8, 5.1, 6.0, 5.3, 6.3, 5.6, 6.5, 5.9, 6.7,
    2.9, 4.0, 3.2, 4.3, 3.4, 4.4, 3.5, 4.7, 3.8, 4.9,
    3.9, 5.1, 4.1, 5.3, 4.4, 5.5, 4.6, 5.7, 4.7, 5.9,
    4.9, 6.1, 5.1, 6.3, 5.3, 6.5, 5.5, 6.6, 5.7, 6.8,
    5.8, 6.9, 6.1, 7.1, 6.3, 7.3, 6.5, 7.5, 6.7, 7.6,
    6.8, 7.9, 7.0, 8.1, 7.3, 8.3, 7.5, 8.4, 7.6, 8.6,
    0.9, 2.0, 0.3, 1.4, 2.5, 0.6, 1.7, 0.1, 1.1, 2.2,
]

letters = ['a)', 'b)', 'c)', 'd)', 'e)', 'f)']
titles = ['BRK Stage IV - Harvey', 'BRK MRMS - Harvey', 'BRK RTMA - Harvey',
          'RK Stage IV - Harvey', 'RK MRMS - Harvey', 'RK RTMA - Harvey']
ylabels = ['BRK Stage IV (cm)', 'BRK MRMS (cm)', 'BRK RTMA (cm)',
           'RK Stage IV (cm)', 'RK MRMS (cm)', 'RK RTMA (cm)']
cc = [0.9715, 0.9972, 0.9801, 0.9591, 0.9743, 0.9033]
nse = [0.9436, 0.9944, 0.9605, 0.9198, 0.9492, 0.7983]
rmse = [0.0973, 0.0308, 0.0885, 0.1160, 0.0923, 0.2010]
products = [brk_stage4, brk_mrms, brk_rtma, rk_stage4, rk_mrms, rk_rtma]

# layout in pixels (figure is 1014 x 577)
W, H = 1014, 577
axes_px = [(41, 41, 325, 266), (363, 41, 647, 266), (686, 41, 969, 266),
           (41, 325, 325, 551), (363, 325, 647, 551), (686, 321, 970, 545)]
title_px = [(182, 31), (511, 31), (831, 31), (178, 324), (505, 325), (824, 324)]
letter_px = [(33, 28), (357, 27), (681, 26), (33, 313), (358, 312), (681, 311)]
stats_px = [(229, (198, 220, 243)), (553, (197, 221, 244)), (887, (198, 221, 245)),
            (229, (483, 507, 530)), (553, (481, 503, 527)), (892, (480, 503, 526))]

plt.rcParams['font.family'] = ['Liberation Sans', 'DejaVu Sans']
big_font = ['Lato', 'DejaVu Sans']
grey = '#7a7a7a'

fig = plt.figure(figsize=(W / 100, H / 100), dpi=100)

for i in range(6):
    l, t, r, b = axes_px[i]
    ax = fig.add_axes([l / W, 1 - b / H, (r - l) / W, (b - t) / H])
    ax.scatter(gauge, products[i], s=26, facecolors='none', edgecolors='#0072BD',
               linewidths=0.7, clip_on=False, zorder=2)
    ax.axline((0, 0), slope=1, color='red', alpha=0.5, lw=0.9,
              ls=(0, (4, 3)), zorder=3)
    ax.set_xlim(0, 18)
    ax.set_ylim(0, 18)
    ax.set_xticks(np.arange(0, 19, 2))
    ax.set_yticks(np.arange(0, 19, 2))
    for s in ['top', 'right']:
        ax.spines[s].set_visible(False)
    for s in ['left', 'bottom']:
        ax.spines[s].set_color(grey)
        ax.spines[s].set_linewidth(0.6)
    ax.tick_params(direction='in', length=2.5, width=0.5, colors=grey,
                   labelsize=5.5, pad=2)
    ax.set_xlabel('Gauge (cm)', fontsize=5.5, color=grey, labelpad=2)
    ax.set_ylabel(ylabels[i], fontsize=5.5, color=grey, labelpad=3)

    tx, ty = title_px[i]
    fig.text(tx / W, 1 - ty / H, titles[i], family=big_font, fontsize=13.8,
             ha='center', va='baseline', color='#1a1a1a', zorder=5)
    lx, ly = letter_px[i]
    fig.text(lx / W, 1 - ly / H, letters[i], family=big_font, fontsize=13.8,
             ha='left', va='baseline', color='#1a1a1a', zorder=5)
    sx, sys_ = stats_px[i]
    lines = ['CC: %.4f' % cc[i], 'NSE: %.4f' % nse[i], 'RMSE: %.4f' % rmse[i]]
    for txt, yy in zip(lines, sys_):
        fig.text(sx / W, 1 - yy / H, txt, family=big_font, fontsize=12.0,
                 ha='left', va='center', color='#1a1a1a', zorder=5)

# white label box over the top of the last panel
fig.add_artist(Rectangle((673 / W, 1 - 320 / H), 290 / W, 32 / H,
                         transform=fig.transFigure, facecolor='white',
                         edgecolor='none', zorder=1))

fig.savefig('out.png', dpi=100)
